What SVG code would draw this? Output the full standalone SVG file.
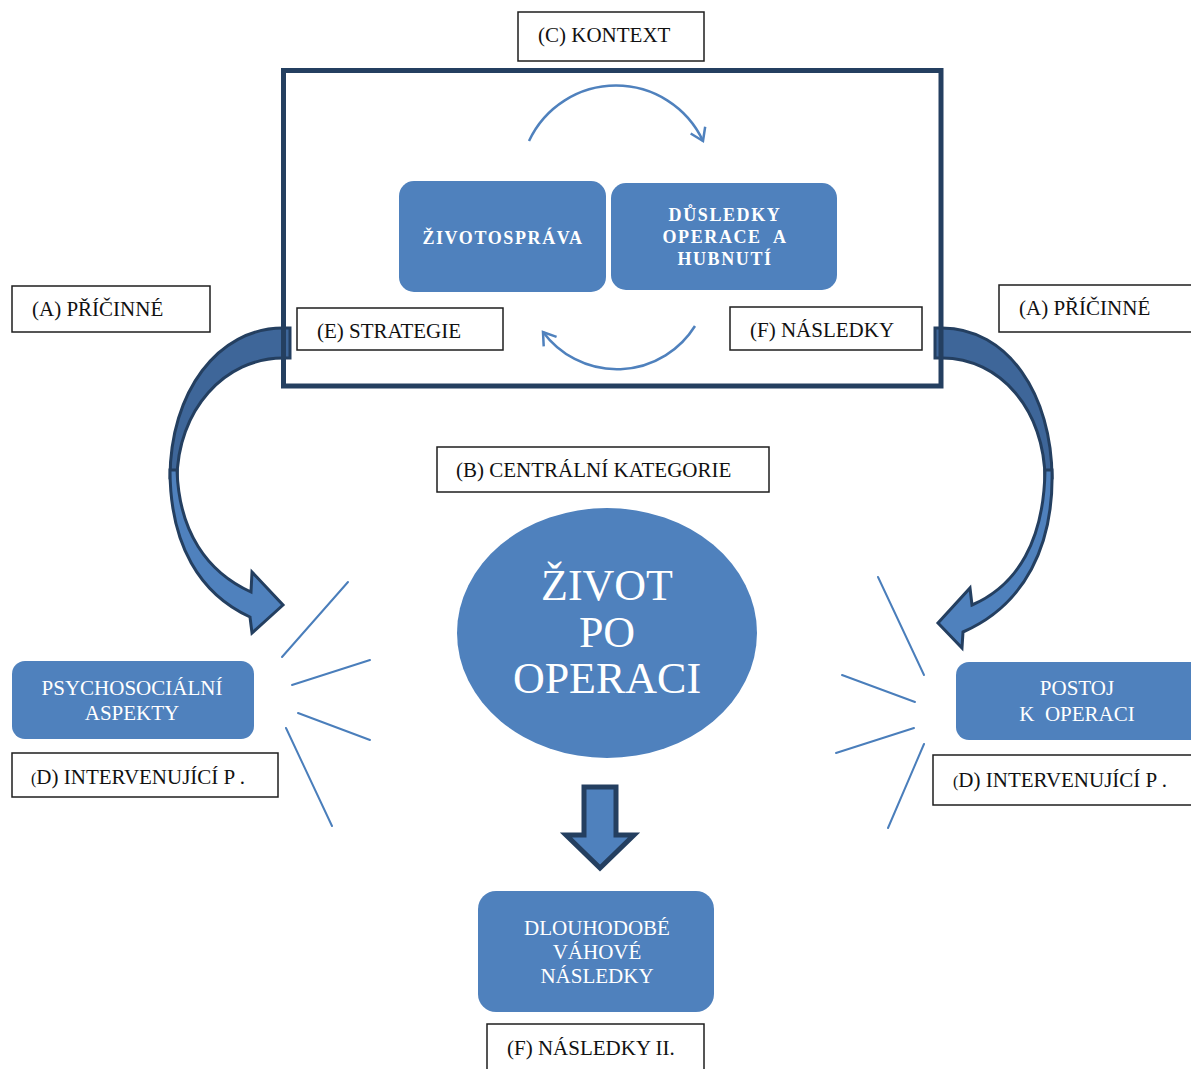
<svg xmlns="http://www.w3.org/2000/svg" width="1191" height="1069" viewBox="0 0 1191 1069">
  <style>
    .lbl { fill: #ffffff; stroke: #1e1e1e; stroke-width: 1.5; }
    .lbltxt { font-family: "Liberation Serif", "Times New Roman", serif; font-size: 21px; fill: #111111; }
    .node { fill: #4F81BD; }
    .ntxt { font-family: "Liberation Serif", "Times New Roman", serif; font-size: 21px; fill: #ffffff; text-anchor: middle; }
    .big { font-size: 44px; }
    .btxt { font-family: "Liberation Serif", "Times New Roman", serif; font-size: 18px; font-weight: bold; fill: #ffffff; text-anchor: middle; letter-spacing: 1.6px; white-space: pre; }
    .ray { stroke: #4A7EBB; stroke-width: 2; fill: none; stroke-linecap: round; }
    .cyc { stroke: #4F81BD; stroke-width: 2.5; fill: none; }
    .fat-back { fill: #3E6699; stroke: #243F60; stroke-width: 3; stroke-linejoin: miter; }
    .fat-front { fill: #4F81BD; stroke: #243F60; stroke-width: 3; stroke-linejoin: miter; }
    .small { font-size: 16px; }
  </style>
  <defs>
    <marker id="chev" viewBox="0 0 20 20" refX="14" refY="10" markerWidth="20" markerHeight="20" markerUnits="userSpaceOnUse" orient="auto">
      <path d="M2,2 L14,10 L2,18" fill="none" stroke="#4F81BD" stroke-width="2.5"/>
    </marker>
  </defs>

  <rect width="1191" height="1069" fill="#ffffff"/>

  <!-- connectors: causal curved arrows, cycle arcs, downward arrow, rays -->
  <g id="connectors">
    <!-- left curved block arrow: back band, then front band with head -->
    <path class="fat-back" d="M290,328 L283,328 C218,328 170,392 170,478 L177,480 C177,410 225,358 283,358 L290,358 Z"/>
    <path class="fat-front" d="M170,470 C170,545 200,594 250,617 L252,633 L283,605 L252,572 L251,592 C207,572 179,532 177,470 Z"/>
    <!-- right curved block arrow: back band, then front band with head -->
    <path class="fat-back" d="M935,328 L942,328 C1008,328 1052,395 1052,478 L1045,480 C1045,410 1000,358 942,358 L935,358 Z"/>
    <path class="fat-front" d="M1052,470 C1054,545 1025,605 963,632 L962,648 L938,623 L970,588 L972,605 C1018,585 1044,540 1045,470 Z"/>

    <!-- cycle arcs inside the context frame -->
    <path class="cyc" d="M529,141 A96,96 0 0 1 703,141" marker-end="url(#chev)"/>
    <path class="cyc" d="M695,326 A92,92 0 0 1 543,332" marker-end="url(#chev)"/>

    <!-- downward block arrow -->
    <polygon points="584,787 616,787 616,835 634,835 600,868 566,835 584,835" fill="#4F81BD" stroke="#243F60" stroke-width="5" stroke-linejoin="miter"/>

    <!-- rays on the left -->
    <line class="ray" x1="348" y1="582" x2="282" y2="657"/>
    <line class="ray" x1="370" y1="660" x2="292" y2="685"/>
    <line class="ray" x1="298" y1="713" x2="370" y2="740"/>
    <line class="ray" x1="286" y1="728" x2="332" y2="826"/>
    <!-- rays on the right -->
    <line class="ray" x1="878" y1="577" x2="924" y2="675"/>
    <line class="ray" x1="842" y1="675" x2="915" y2="702"/>
    <line class="ray" x1="914" y1="728" x2="836" y2="753"/>
    <line class="ray" x1="924" y1="744" x2="888" y2="828"/>
  </g>

  <!-- context frame -->
  <g id="context-frame">
    <rect x="283.5" y="70.5" width="657.5" height="315.5" fill="none" stroke="#243F60" stroke-width="5"/>
  </g>

  <g id="label-kontext">
    <rect class="lbl" x="518" y="12" width="186" height="49"/>
    <text class="lbltxt" x="538" y="42">(C) KONTEXT</text>
  </g>

  <g id="node-zivotosprava">
    <rect class="node" x="399" y="181" width="207" height="111" rx="15"/>
    <text class="btxt" x="503" y="244">ŽIVOTOSPRÁVA</text>
  </g>

  <g id="node-dusledky">
    <rect class="node" x="611" y="183" width="226" height="107" rx="15"/>
    <text class="btxt" x="725" y="221">DŮSLEDKY</text>
    <text class="btxt" x="725" y="243">OPERACE  A</text>
    <text class="btxt" x="725" y="265">HUBNUTÍ</text>
  </g>

  <g id="label-strategie">
    <rect class="lbl" x="297" y="308" width="206" height="42"/>
    <text class="lbltxt" x="317" y="338">(E) STRATEGIE</text>
  </g>

  <g id="label-nasledky">
    <rect class="lbl" x="730" y="307" width="192" height="43"/>
    <text class="lbltxt" x="750" y="337">(F) NÁSLEDKY</text>
  </g>

  <g id="label-pricinne-left">
    <rect class="lbl" x="12" y="286" width="198" height="46"/>
    <text class="lbltxt" x="32" y="316">(A) PŘÍČINNÉ</text>
  </g>

  <g id="label-pricinne-right">
    <rect class="lbl" x="999" y="285" width="200" height="47"/>
    <text class="lbltxt" x="1019" y="315">(A) PŘÍČINNÉ</text>
  </g>

  <g id="label-centralni">
    <rect class="lbl" x="437" y="447" width="332" height="45"/>
    <text class="lbltxt" x="456" y="477">(B) CENTRÁLNÍ KATEGORIE</text>
  </g>

  <g id="node-zivot">
    <ellipse class="node" cx="607" cy="633" rx="150" ry="125"/>
    <text class="ntxt big" x="607" y="600">ŽIVOT</text>
    <text class="ntxt big" x="607" y="647">PO</text>
    <text class="ntxt big" x="607" y="693">OPERACI</text>
  </g>

  <g id="node-psychosocialni">
    <rect class="node" x="12" y="661" width="242" height="78" rx="13"/>
    <text class="ntxt" x="132" y="695">PSYCHOSOCIÁLNÍ</text>
    <text class="ntxt" x="132" y="720">ASPEKTY</text>
  </g>

  <g id="label-intervenujici-left">
    <rect class="lbl" x="12" y="753" width="266" height="44"/>
    <text class="lbltxt" x="31" y="784"><tspan class="small">(</tspan>D) INTERVENUJÍCÍ P .</text>
  </g>

  <g id="node-postoj">
    <rect class="node" x="956" y="662" width="250" height="78" rx="13"/>
    <text class="ntxt" x="1077" y="695">POSTOJ</text>
    <text class="ntxt" x="1077" y="721" style="white-space:pre">K  OPERACI</text>
  </g>

  <g id="label-intervenujici-right">
    <rect class="lbl" x="933" y="755" width="270" height="50"/>
    <text class="lbltxt" x="953" y="787"><tspan class="small">(</tspan>D) INTERVENUJÍCÍ P .</text>
  </g>

  <g id="node-dlouhodobe">
    <rect class="node" x="478" y="891" width="236" height="121" rx="18"/>
    <text class="ntxt" x="597" y="935">DLOUHODOBÉ</text>
    <text class="ntxt" x="597" y="959">VÁHOVÉ</text>
    <text class="ntxt" x="597" y="983">NÁSLEDKY</text>
  </g>

  <g id="label-nasledky-ii">
    <rect class="lbl" x="487" y="1024" width="217" height="60"/>
    <text class="lbltxt" x="507" y="1055">(F) NÁSLEDKY II.</text>
  </g>
</svg>
